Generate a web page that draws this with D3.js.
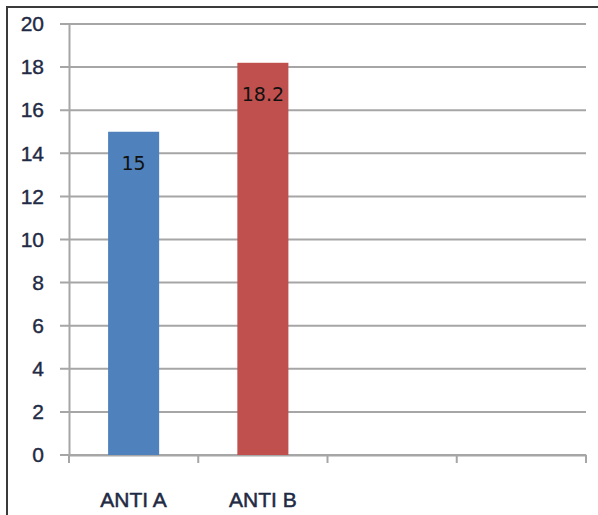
<!DOCTYPE html>
<html>
<head>
<meta charset="utf-8">
<script src="https://cdn.jsdelivr.net/npm/d3@7"></script>
<style>
  html, body { margin: 0; padding: 0; background: #fff; }
  svg { display: block; }
</style>
</head>
<body>
<script>
// Chart data
const categories = ["ANTI A", "ANTI B", "", " "];
const values = [15, 18.2, null, null];
const barColors = ["#4F81BD", "#C0504D"];
const yTicks = [0, 2, 4, 6, 8, 10, 12, 14, 16, 18, 20];

const W = 598, H = 515;
const margin = { left: 69, right: 12, top: 24, bottom: 60 };

const svg = d3.select("body").append("svg")
  .attr("width", W).attr("height", H);

// outer frame (runs off the right and bottom edges)
svg.append("rect")
  .attr("x", 7).attr("y", 7)
  .attr("width", W + 10).attr("height", H + 10)
  .attr("fill", "none").attr("stroke", "#3a3a3a").attr("stroke-width", 2);

const x = d3.scaleBand()
  .domain(categories)
  .range([margin.left, W - margin.right])
  .paddingInner(0).paddingOuter(0);

const y = d3.scaleLinear()
  .domain([0, 20])
  .range([455, margin.top]);

const gridColor = "#a6a6a6";
const labelColor = "#1f2a44";

// horizontal gridlines
svg.append("g")
  .selectAll("line")
  .data(yTicks)
  .join("line")
  .attr("x1", margin.left - 9)
  .attr("x2", W - margin.right)
  .attr("y1", d => y(d)).attr("y2", d => y(d))
  .attr("stroke", gridColor).attr("stroke-width", 2);

// y axis
const yAxis = svg.append("g")
  .attr("transform", `translate(${margin.left},0)`)
  .call(d3.axisLeft(y).tickValues(yTicks).tickSize(0).tickPadding(25).tickFormat(d3.format("d")));
yAxis.select(".domain").attr("stroke", gridColor).attr("stroke-width", 2);
yAxis.selectAll("text")
  .attr("font-family", "Liberation Sans, Arial, sans-serif")
  .attr("font-size", 21)
  .attr("fill", labelColor)
  .attr("stroke", labelColor).attr("stroke-width", 0.4);

// x axis
const xAxis = svg.append("g")
  .attr("transform", `translate(0,${y(0)})`)
  .call(d3.axisBottom(x).tickSize(0).tickFormat(d => d.trim()));
xAxis.select(".domain").attr("stroke", gridColor).attr("stroke-width", 2);
xAxis.selectAll("text")
  .attr("y", 52).attr("dy", 0)
  .attr("font-family", "Liberation Sans, Arial, sans-serif")
  .attr("font-size", 21)
  .attr("fill", labelColor)
  .attr("stroke", labelColor).attr("stroke-width", 0.5);

// category boundary ticks
const bounds = categories.map(c => x(c)).concat([x(categories[categories.length - 1]) + x.bandwidth()]);
svg.append("g")
  .selectAll("line")
  .data(bounds)
  .join("line")
  .attr("x1", d => d).attr("x2", d => d)
  .attr("y1", y(0)).attr("y2", y(0) + 8)
  .attr("stroke", gridColor).attr("stroke-width", 2);

// bars
const barW = x.bandwidth() * 0.395;
const barData = categories.map((c, i) => ({ c, v: values[i], i })).filter(d => d.v != null);
svg.append("g")
  .selectAll("rect")
  .data(barData)
  .join("rect")
  .attr("x", d => x(d.c) + (x.bandwidth() - barW) / 2)
  .attr("width", barW)
  .attr("y", d => y(d.v))
  .attr("height", d => y(0) - y(d.v))
  .attr("fill", d => barColors[d.i]);

// value labels inside the top of each bar
svg.append("g")
  .selectAll("text")
  .data(barData)
  .join("text")
  .attr("x", d => x(d.c) + x.bandwidth() / 2)
  .attr("y", d => y(d.v) + 38)
  .attr("text-anchor", "middle")
  .attr("font-family", "DejaVu Sans, sans-serif")
  .attr("font-size", 19)
  .attr("fill", "#111")
  .text(d => d.v);
</script>
</body>
</html>
